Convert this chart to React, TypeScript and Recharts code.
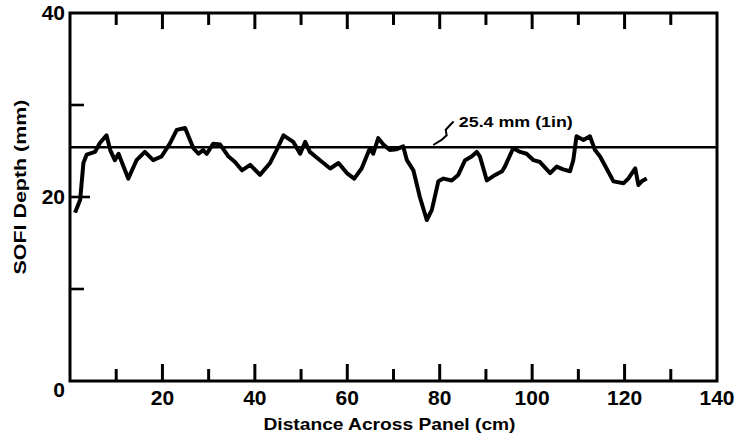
import { LineChart, Line, XAxis, YAxis, ReferenceLine, ReferenceDot, ReferenceArea } from 'recharts';

const distance = [
  1.1, 2.2, 2.9, 3.6, 5.4, 6.5, 7.9, 8.7, 9.7, 10.5, 12.6, 14.4, 16.2, 18.0, 19.8, 21.6, 23.1, 24.9,
  26.7, 27.8, 28.8, 29.6, 31.0, 32.5, 34.3, 35.7, 37.2, 39.0, 41.1, 43.3, 44.7, 46.2, 48.3, 49.8,
  50.9, 51.9, 54.1, 56.3, 58.1, 59.9, 61.5, 63.1, 64.9, 65.6, 66.7, 67.8, 69.2, 70.7, 72.1, 72.9,
  74.3, 75.7, 77.2, 78.3, 79.7, 80.8, 82.6, 84.0, 85.5, 86.9, 88.0, 88.7, 90.2, 92.0, 93.5, 94.1,
  95.9, 97.4, 98.8, 100.3, 101.7, 103.9, 105.3, 106.7, 108.2, 108.9, 109.6, 111.1, 112.5, 113.6,
  114.7, 116.1, 117.6, 119.8, 120.8, 122.3, 123.0, 123.7, 124.8,
];
const depth = [
  18.3, 19.7, 23.7, 24.6, 24.9, 25.9, 26.7, 25.1, 24.0, 24.7, 22.0, 24.0, 24.9, 24.0, 24.4, 25.8, 27.3, 27.5,
  25.3, 24.7, 25.1, 24.7, 25.8, 25.7, 24.4, 23.8, 22.9, 23.5, 22.4, 23.7, 25.1, 26.7, 26.0, 24.7,
  26.0, 24.9, 24.0, 23.1, 23.7, 22.6, 22.0, 23.1, 25.3, 24.7, 26.4, 25.7, 25.1, 25.2, 25.5, 24.0,
  22.9, 20.0, 17.5, 18.6, 21.7, 22.0, 21.8, 22.4, 24.0, 24.4, 24.9, 24.4, 21.8, 22.4, 22.8, 23.3,
  25.3, 24.9, 24.7, 24.0, 23.8, 22.6, 23.3, 23.0, 22.8, 24.0, 26.6, 26.2, 26.6, 25.1,
  24.4, 23.1, 21.7, 21.5, 22.0, 23.1, 21.3, 21.7, 22.0,
];

// squiggly leader from the 1 in line up to its label
const leaderX = [78.6, 80.4, 81.5, 81.3, 82.2, 83.0];
const leaderY = [25.65, 26.2, 26.7, 27.3, 27.8, 28.2];

const xTicks = [0, 10, 20, 30, 40, 50, 60, 70, 80, 90, 100, 110, 120, 130, 140];
const xInnerTicks = [10, 20, 30, 40, 50, 60, 70, 80, 90, 100, 110, 120, 130];
const yTicks = [0, 10, 20, 30, 40];
const xDomain = [0, 140];
const yDomain = [0, 40];
const refDepth = 25.4;
const refLabel = '25.4 mm (1in)';
const xTitle = 'Distance Across Panel (cm)';
const yTitle = 'SOFI Depth (mm)';
const labelAt = { x: 83.7, y: 28.2 };

// x tick mark lengths, in mm of the depth axis
const MAJOR_BOTTOM = 1.85;
const MAJOR_TOP = 1.75;
const MINOR = 1.3;

const data = distance.map((d, i) => ({ d, v: depth[i] }));
const leader = leaderX.map((d, i) => ({ d, v: leaderY[i] }));
const tickSegs = xInnerTicks.flatMap((t) => {
  const major = t % 20 === 0;
  return [
    { id: `b${t}`, pts: [{ d: t, v: yDomain[0] }, { d: t, v: yDomain[0] + (major ? MAJOR_BOTTOM : MINOR) }] },
    { id: `t${t}`, pts: [{ d: t, v: yDomain[1] }, { d: t, v: yDomain[1] - (major ? MAJOR_TOP : MINOR) }] },
  ];
});

const FONT = '"Liberation Sans", Arial, sans-serif';
const TW = 2.6; // tick thickness

const BottomLabel = (props: any) => {
  const x = Number(props.x);
  const y = Number(props.y);
  const v = Number(props.payload.value);
  if (v <= 0 || v % 20 !== 0) return <g />;
  return (
    <text x={x} y={y + 24} textAnchor="middle" fontFamily={FONT} fontWeight="bold" fontSize={21} fill="#000">
      {v}
    </text>
  );
};

const LeftTick = (props: any) => {
  const x = Number(props.x);
  const y = Number(props.y);
  const v = Number(props.payload.value);
  const major = v % 20 === 0;
  const len = v > 0 && v < 40 ? (major ? 20 : 14) : 0;
  return (
    <g>
      {len > 0 && <rect x={x} y={y - TW / 2} width={len} height={TW} fill="#000" />}
      {major && (
        <text x={x - 5} y={y + (v === 0 ? 16 : 7)} textAnchor="end" fontFamily={FONT} fontWeight="bold" fontSize={21} fill="#000">
          {v}
        </text>
      )}
    </g>
  );
};

const RightTick = (props: any) => {
  const x = Number(props.x);
  const y = Number(props.y);
  const v = Number(props.payload.value);
  const major = v % 20 === 0;
  const len = v > 0 && v < 40 ? (major ? 20 : 14) : 0;
  return <g>{len > 0 && <rect x={x - len} y={y - TW / 2} width={len} height={TW} fill="#000" />}</g>;
};

const YTitle = ({ viewBox }: any) => {
  const cx = 20;
  const cy = viewBox.y + viewBox.height / 2 - 10;
  return (
    <text
      x={cx}
      y={cy}
      transform={`rotate(-90 ${cx} ${cy})`}
      textAnchor="middle"
      dominantBaseline="central"
      fontFamily={FONT}
      fontWeight="bold"
      fontSize={17}
      textLength={175}
      lengthAdjust="spacingAndGlyphs"
      fill="#000"
    >
      {yTitle}
    </text>
  );
};

// x title hung off the frame rectangle
const XTitle = ({ viewBox }: any) => (
  <text
    x={viewBox.x + viewBox.width / 2 - 4}
    y={viewBox.y + viewBox.height + 49}
    textAnchor="middle"
    fontFamily={FONT}
    fontWeight="bold"
    fontSize={17}
    textLength={252}
    lengthAdjust="spacingAndGlyphs"
    fill="#000"
  >
    {xTitle}
  </text>
);

const RefText = ({ viewBox }: any) => (
  <text
    x={viewBox.x + 2}
    y={viewBox.y + 5}
    fontFamily={FONT}
    fontWeight="bold"
    fontSize={15}
    textLength={114}
    lengthAdjust="spacingAndGlyphs"
    fill="#000"
  >
    {refLabel}
  </text>
);

export default function App() {
  return (
    <div style={{ position: 'absolute', left: 0, top: 0, background: '#fff' }}>
      <LineChart width={735} height={435} data={data} margin={{ top: 13, right: 0, bottom: 0, left: 0 }}>
        <XAxis
          xAxisId="b"
          dataKey="d"
          type="number"
          domain={xDomain}
          ticks={xTicks}
          interval={0}
          height={54}
          tickSize={0}
          tickMargin={0}
          tickLine={false}
          tick={BottomLabel}
          axisLine={false}
        />
        <YAxis
          yAxisId="l"
          type="number"
          domain={yDomain}
          ticks={yTicks}
          interval={0}
          width={70}
          tickSize={0}
          tickMargin={0}
          tickLine={false}
          tick={LeftTick}
          axisLine={false}
          label={{ content: YTitle }}
        />
        <YAxis
          yAxisId="r"
          orientation="right"
          type="number"
          domain={yDomain}
          ticks={yTicks}
          interval={0}
          width={18}
          tickSize={0}
          tickMargin={0}
          tickLine={false}
          tick={RightTick}
          axisLine={false}
        />
        <ReferenceArea
          xAxisId="b"
          yAxisId="l"
          x1={xDomain[0]}
          x2={xDomain[1]}
          y1={yDomain[0]}
          y2={yDomain[1]}
          fill="none"
          fillOpacity={0}
          stroke="#000"
          strokeWidth={3}
          label={{ content: XTitle }}
        />
        <ReferenceLine xAxisId="b" yAxisId="l" y={refDepth} stroke="#000" strokeWidth={2.5} />
        {tickSegs.map((s) => (
          <Line
            key={s.id}
            xAxisId="b"
            yAxisId="l"
            data={s.pts}
            dataKey="v"
            type="linear"
            stroke="#000"
            strokeWidth={3}
            dot={false}
            legendType="none"
            isAnimationActive={false}
          />
        ))}
        <Line
          xAxisId="b"
          yAxisId="l"
          data={leader}
          dataKey="v"
          type="linear"
          stroke="#000"
          strokeWidth={2}
          dot={false}
          isAnimationActive={false}
        />
        <Line
          xAxisId="b"
          yAxisId="l"
          dataKey="v"
          type="linear"
          stroke="#000"
          strokeWidth={4}
          strokeLinejoin="round"
          dot={false}
          isAnimationActive={false}
        />
        <ReferenceDot
          xAxisId="b"
          yAxisId="l"
          x={labelAt.x}
          y={labelAt.y}
          r={0}
          fill="none"
          stroke="none"
          label={{ content: RefText }}
        />
      </LineChart>
    </div>
  );
}
